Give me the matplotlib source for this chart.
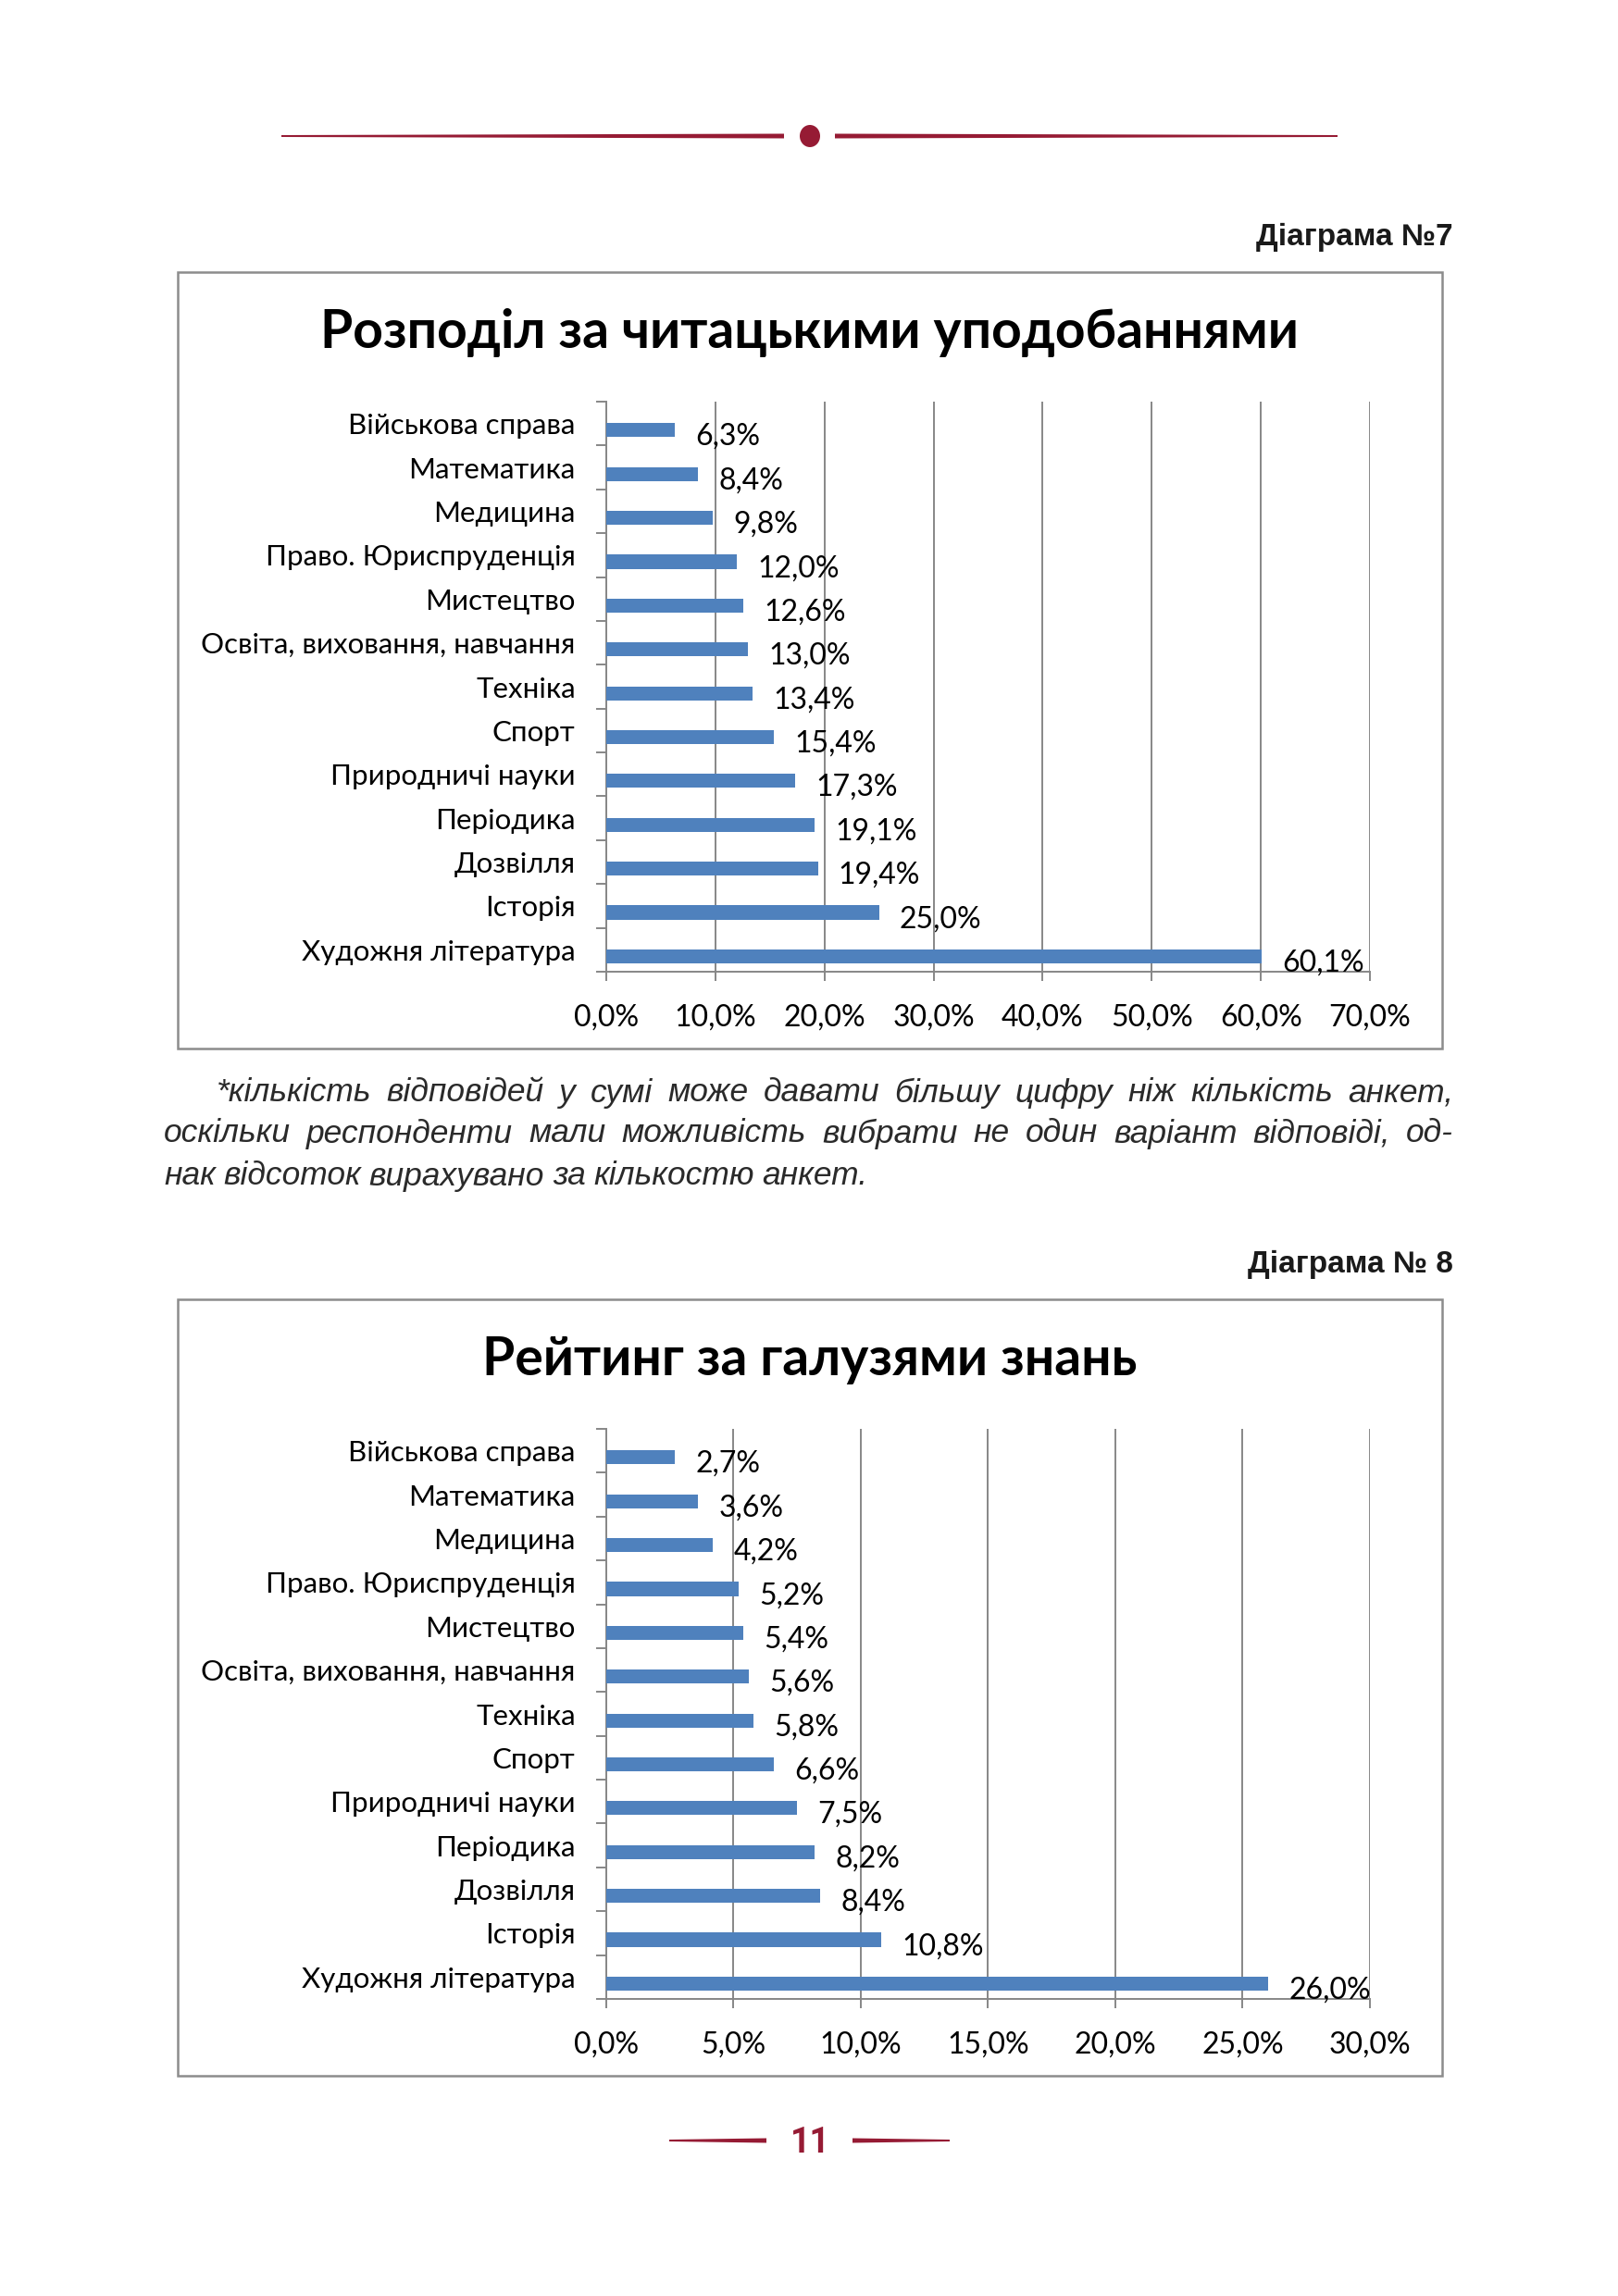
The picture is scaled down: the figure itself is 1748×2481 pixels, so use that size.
import matplotlib
matplotlib.use("Agg")
import matplotlib.pyplot as plt
from matplotlib.patches import Rectangle, Polygon, Ellipse

# DATA
categories = ["Військова справа", "Математика", "Медицина", "Право. Юриспруденція",
              "Мистецтво", "Освіта, виховання, навчання", "Техніка", "Спорт",
              "Природничі науки", "Періодика", "Дозвілля", "Історія",
              "Художня література"]
reading_values = [6.3, 8.4, 9.8, 12.0, 12.6, 13.0, 13.4, 15.4, 17.3, 19.1, 19.4, 25.0, 60.1]
field_values = [2.7, 3.6, 4.2, 5.2, 5.4, 5.6, 5.8, 6.6, 7.5, 8.2, 8.4, 10.8, 26.0]
reading_ticks = [0, 10, 20, 30, 40, 50, 60, 70]
field_ticks = [0, 5, 10, 15, 20, 25, 30]

title1 = "Розподіл за читацькими уподобаннями"
title2 = "Рейтинг за галузями знань"
caption1 = "Діаграма №7"
caption2 = "Діаграма № 8"
footnote = ["*кількість відповідей у сумі може давати більшу цифру ніж кількість анкет,",
            "оскільки респонденти мали можливість вибрати не один варіант відповіді, од-",
            "нак відсоток вирахувано за кількостю анкет."]

# STYLE
W, H = 1749, 2481
BAR = "#4f81bd"
GRID = "#878787"
RED = "#961b34"
CHART_FONT = ["Lato", "Noto Sans", "DejaVu Sans"]
TEXT_FONT = ["Liberation Sans", "DejaVu Sans"]


def fx(x):
    return x / W


def fy(y):
    return 1 - y / H


def fmt(v):
    return f"{v:.1f}%".replace(".", ",")


fig = plt.figure(figsize=(W / 100, H / 100), dpi=100)
fig.patch.set_facecolor("white")


def tapered(x0, x1, y, w0, w1):
    pts = [(fx(x0), fy(y - w0 / 2)), (fx(x1), fy(y - w1 / 2)),
           (fx(x1), fy(y + w1 / 2)), (fx(x0), fy(y + w0 / 2))]
    fig.patches.append(Polygon(pts, closed=True, transform=fig.transFigure,
                               facecolor=RED, edgecolor="none"))


# header ornament
tapered(304, 847, 147, 2, 5)
tapered(902, 1445, 147, 5, 2)
fig.patches.append(Ellipse((fx(875), fy(147)), 22 / W, 24 / H, transform=fig.transFigure,
                           facecolor=RED, edgecolor="none"))

# page number
tapered(723, 828, 2313, 2, 5)
tapered(921, 1026, 2313, 5, 2)
fig.text(fx(875), fy(2316), "11", ha="center", va="center", color=RED,
         fontsize=27, fontweight="bold", family=["Roboto", "DejaVu Sans"])


def draw_chart(top, title, caption, values, ticks):
    # caption above the box
    fig.text(fx(1570), fy(top - 38), caption, ha="right", va="center",
             fontsize=24, fontweight="bold", family=TEXT_FONT, color="#1a1a1a")
    # outer frame
    fig.patches.append(Rectangle((fx(192), fy(top + 839)), (1558 - 192) / W, 839 / H,
                                 transform=fig.transFigure, facecolor="none",
                                 edgecolor="#8c8c8c", linewidth=1.8))
    fig.text(fx(875), fy(top + 65), title, ha="center", va="center",
             fontsize=41, fontweight="bold", family=CHART_FONT, color="black")

    ax = fig.add_axes([fx(655), fy(top + 756), (1480 - 655) / W, 616 / H])
    y = list(range(len(categories)))
    # Excel draws the single series a little below the band centre
    ax.barh([yi + 0.15 for yi in y], values, height=0.32, color=BAR, zorder=3)
    for yi, v in zip(y, values):
        ax.annotate(fmt(v), (v, yi + 0.3), xytext=(16, 0), textcoords="offset points",
                    ha="left", va="center", fontsize=23, family=CHART_FONT,
                    color="black", zorder=4)
    ax.set_xlim(ticks[0], ticks[-1])
    ax.set_ylim(len(categories) - 0.5, -0.5)
    ax.set_xticks(ticks)
    ax.set_xticklabels([fmt(t) for t in ticks], fontsize=23, family=CHART_FONT)
    ax.set_yticks(y)
    ax.set_yticklabels(categories, fontsize=22.5, family=CHART_FONT)
    ax.set_yticks([i - 0.5 for i in range(len(categories) + 1)], minor=True)
    ax.tick_params(axis="y", which="major", length=0, pad=24)
    ax.tick_params(axis="y", which="minor", length=8, width=1.4, color=GRID)
    ax.tick_params(axis="x", length=7, width=1.4, color=GRID, pad=18)
    ax.xaxis.grid(True, color=GRID, linewidth=1.4, zorder=0)
    for s in ["top", "right"]:
        ax.spines[s].set_visible(False)
    for s in ["left", "bottom"]:
        ax.spines[s].set_color(GRID)
        ax.spines[s].set_linewidth(1.4)
    ax.set_facecolor("none")


draw_chart(294, title1, caption1, reading_values, reading_ticks)
draw_chart(1404, title2, caption2, field_values, field_ticks)

# footnote, justified lines
renderer = fig.canvas.get_renderer()
line_y = [1181, 1225, 1271]
line_x0 = [234, 177, 177]
right = 1570
for i, (line, ly, lx) in enumerate(zip(footnote, line_y, line_x0)):
    words = line.split(" ")
    texts = [fig.text(0, fy(ly), w_, ha="left", va="center", fontsize=25.5,
                      style="italic", family=TEXT_FONT, color="#2a2a2a") for w_ in words]
    widths = [t.get_window_extent(renderer).width for t in texts]
    space = texts[0].get_window_extent(renderer).height * 0.26
    if i < len(footnote) - 1 and len(words) > 1:
        space = (right - lx - sum(widths)) / (len(words) - 1)
    x = lx
    for t, w_ in zip(texts, widths):
        t.set_x(fx(x))
        x += w_ + space

fig.savefig("out.png", dpi=100, facecolor="white")
